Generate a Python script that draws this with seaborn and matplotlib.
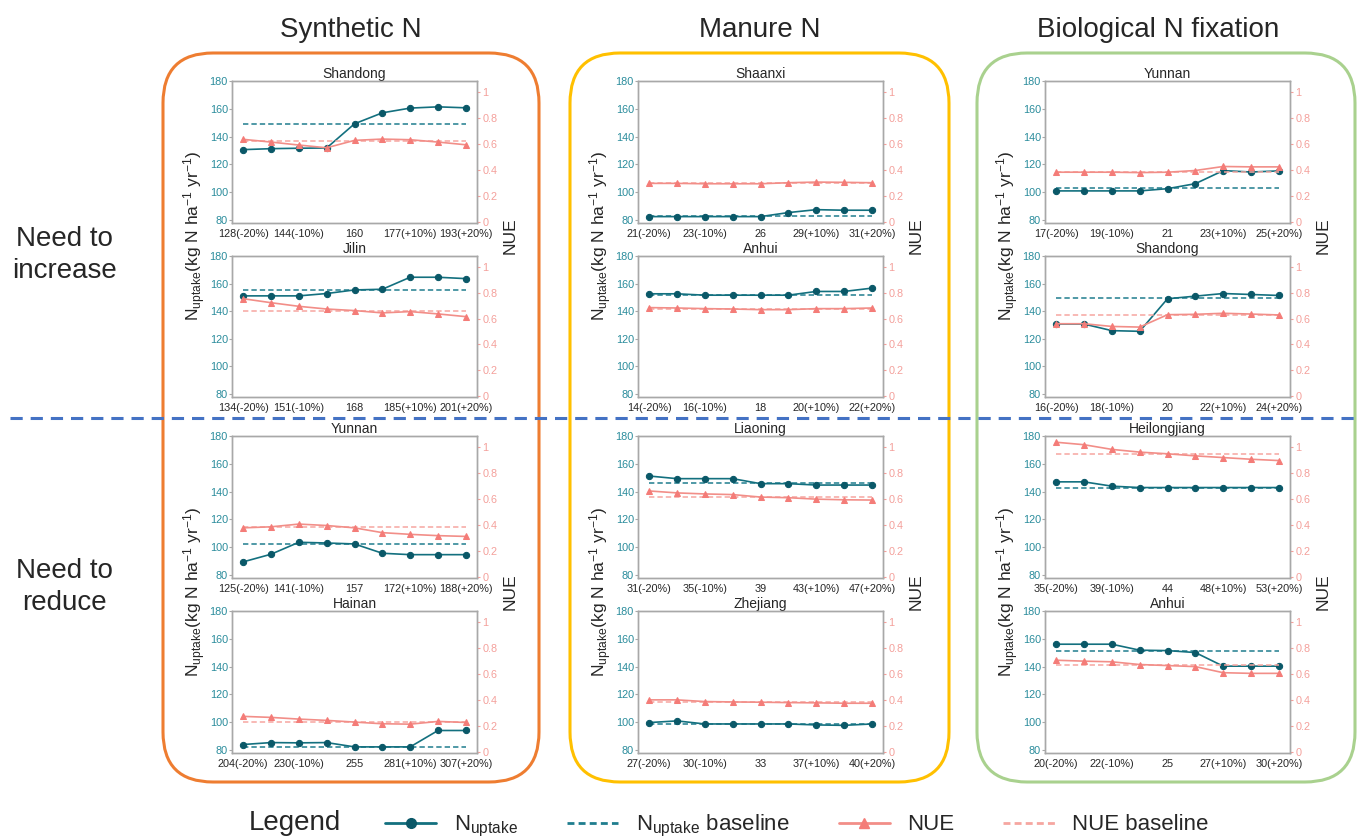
import numpy as np
import pandas as pd
import matplotlib
matplotlib.use("Agg")
import matplotlib.pyplot as plt
import seaborn as sns
from matplotlib.patches import FancyBboxPatch
from matplotlib.lines import Line2D

sns.set_style("white")
plt.rcParams["font.family"] = ["Liberation Sans", "DejaVu Sans"]
plt.rcParams["mathtext.default"] = "regular"

# ---------------- data ----------------
# Synthetic N
syn_shandong_x = ["128(-20%)", "144(-10%)", "160", "177(+10%)", "193(+20%)"]
syn_shandong_up = [130.6, 131.3, 131.6, 131.8, 149.2, 157.1, 160.5, 161.4, 160.7]
syn_shandong_up_base = 149.2
syn_shandong_nue = [0.636, 0.615, 0.592, 0.571, 0.628, 0.638, 0.633, 0.615, 0.594]
syn_shandong_nue_base = 0.625

syn_jilin_x = ["134(-20%)", "151(-10%)", "168", "185(+10%)", "201(+20%)"]
syn_jilin_up = [151.1, 151.1, 151.1, 152.8, 155.4, 155.9, 164.6, 164.6, 163.6]
syn_jilin_up_base = 155.4
syn_jilin_nue = [0.754, 0.723, 0.695, 0.674, 0.662, 0.644, 0.654, 0.636, 0.615]
syn_jilin_nue_base = 0.662

syn_yunnan_x = ["125(-20%)", "141(-10%)", "157", "172(+10%)", "188(+20%)"]
syn_yunnan_up = [89.4, 94.9, 103.5, 103.0, 102.3, 95.6, 94.6, 94.6, 94.6]
syn_yunnan_up_base = 102.3
syn_yunnan_nue = [0.378, 0.386, 0.407, 0.396, 0.378, 0.341, 0.328, 0.318, 0.312]
syn_yunnan_nue_base = 0.381

syn_hainan_x = ["204(-20%)", "230(-10%)", "255", "281(+10%)", "307(+20%)"]
syn_hainan_up = [83.9, 85.3, 85.1, 85.3, 82.2, 82.2, 82.2, 94.0, 94.0]
syn_hainan_up_base = 82.2
syn_hainan_nue = [0.274, 0.266, 0.253, 0.243, 0.230, 0.217, 0.214, 0.235, 0.227]
syn_hainan_nue_base = 0.230

# Manure N
man_shaanxi_x = ["21(-20%)", "23(-10%)", "26", "29(+10%)", "31(+20%)"]
man_shaanxi_up = [82.4, 82.4, 82.4, 82.4, 82.4, 85.3, 87.4, 87.0, 87.0]
man_shaanxi_up_base = 82.6
man_shaanxi_nue = [0.297, 0.297, 0.294, 0.294, 0.294, 0.302, 0.307, 0.305, 0.302]
man_shaanxi_nue_base = 0.297

man_anhui_x = ["14(-20%)", "16(-10%)", "18", "20(+10%)", "22(+20%)"]
man_anhui_up = [152.6, 152.6, 151.6, 151.6, 151.6, 151.6, 154.3, 154.3, 156.7]
man_anhui_up_base = 151.6
man_anhui_nue = [0.685, 0.682, 0.677, 0.674, 0.669, 0.669, 0.677, 0.677, 0.682]
man_anhui_nue_base = 0.674

man_liaoning_x = ["31(-20%)", "35(-10%)", "39", "43(+10%)", "47(+20%)"]
man_liaoning_up = [151.2, 149.3, 149.3, 149.3, 145.7, 145.7, 144.7, 144.7, 144.7]
man_liaoning_up_base = 146.2
man_liaoning_nue = [0.662, 0.647, 0.639, 0.634, 0.615, 0.610, 0.599, 0.594, 0.592]
man_liaoning_nue_base = 0.618

man_zhejiang_x = ["27(-20%)", "30(-10%)", "33", "37(+10%)", "40(+20%)"]
man_zhejiang_up = [99.7, 100.9, 98.7, 98.7, 98.7, 98.7, 98.0, 97.7, 98.7]
man_zhejiang_up_base = 98.5
man_zhejiang_nue = [0.401, 0.401, 0.388, 0.385, 0.383, 0.380, 0.378, 0.375, 0.375]
man_zhejiang_nue_base = 0.385

# Biological N fixation
bio_yunnan_x = ["17(-20%)", "19(-10%)", "21", "23(+10%)", "25(+20%)"]
bio_yunnan_up = [100.9, 100.9, 100.9, 100.9, 102.5, 106.1, 115.5, 114.5, 115.3]
bio_yunnan_up_base = 102.8
bio_yunnan_nue = [0.383, 0.383, 0.383, 0.380, 0.383, 0.396, 0.427, 0.424, 0.424]
bio_yunnan_nue_base = 0.385

bio_shandong_x = ["16(-20%)", "18(-10%)", "20", "22(+10%)", "24(+20%)"]
bio_shandong_up = [130.7, 130.7, 125.9, 125.4, 149.0, 150.9, 152.8, 152.1, 151.4]
bio_shandong_up_base = 149.2
bio_shandong_nue = [0.560, 0.560, 0.539, 0.534, 0.630, 0.633, 0.641, 0.635, 0.628]
bio_shandong_nue_base = 0.630

bio_heilongjiang_x = ["35(-20%)", "39(-10%)", "44", "48(+10%)", "53(+20%)"]
bio_heilongjiang_up = [147.0, 147.0, 143.9, 142.9, 142.9, 142.9, 142.9, 142.9, 142.9]
bio_heilongjiang_up_base = 142.9
bio_heilongjiang_nue = [1.037, 1.018, 0.982, 0.961, 0.948, 0.932, 0.919, 0.906, 0.896]
bio_heilongjiang_nue_base = 0.950

bio_anhui_x = ["20(-20%)", "22(-10%)", "25", "27(+10%)", "30(+20%)"]
bio_anhui_up = [156.1, 156.1, 156.1, 151.8, 151.5, 150.1, 140.3, 140.3, 140.3]
bio_anhui_up_base = 151.5
bio_anhui_nue = [0.706, 0.699, 0.694, 0.673, 0.665, 0.657, 0.610, 0.605, 0.605]
bio_anhui_nue_base = 0.668

col_titles = ["Synthetic N", "Manure N", "Biological N fixation"]
row_labels = ["Need to\nincrease", "Need to\nreduce"]

# (column, row, title, xlabels, uptake, uptake baseline, nue, nue baseline)
panels = [
    (0, 0, "Shandong", syn_shandong_x, syn_shandong_up, syn_shandong_up_base, syn_shandong_nue, syn_shandong_nue_base),
    (0, 1, "Jilin", syn_jilin_x, syn_jilin_up, syn_jilin_up_base, syn_jilin_nue, syn_jilin_nue_base),
    (0, 2, "Yunnan", syn_yunnan_x, syn_yunnan_up, syn_yunnan_up_base, syn_yunnan_nue, syn_yunnan_nue_base),
    (0, 3, "Hainan", syn_hainan_x, syn_hainan_up, syn_hainan_up_base, syn_hainan_nue, syn_hainan_nue_base),
    (1, 0, "Shaanxi", man_shaanxi_x, man_shaanxi_up, man_shaanxi_up_base, man_shaanxi_nue, man_shaanxi_nue_base),
    (1, 1, "Anhui", man_anhui_x, man_anhui_up, man_anhui_up_base, man_anhui_nue, man_anhui_nue_base),
    (1, 2, "Liaoning", man_liaoning_x, man_liaoning_up, man_liaoning_up_base, man_liaoning_nue, man_liaoning_nue_base),
    (1, 3, "Zhejiang", man_zhejiang_x, man_zhejiang_up, man_zhejiang_up_base, man_zhejiang_nue, man_zhejiang_nue_base),
    (2, 0, "Yunnan", bio_yunnan_x, bio_yunnan_up, bio_yunnan_up_base, bio_yunnan_nue, bio_yunnan_nue_base),
    (2, 1, "Shandong", bio_shandong_x, bio_shandong_up, bio_shandong_up_base, bio_shandong_nue, bio_shandong_nue_base),
    (2, 2, "Heilongjiang", bio_heilongjiang_x, bio_heilongjiang_up, bio_heilongjiang_up_base, bio_heilongjiang_nue, bio_heilongjiang_nue_base),
    (2, 3, "Anhui", bio_anhui_x, bio_anhui_up, bio_anhui_up_base, bio_anhui_nue, bio_anhui_nue_base),
]

# colours
teal_line = "#13707F"
teal_mark = "#0A5868"
teal_base = "#1F7D8E"
teal_text = "#2A8C9C"
pink_line = "#F28E88"
pink_mark = "#F47C78"
pink_base = "#F6A6A0"
pink_text = "#F4A09B"
spine_col = "#A8A8A8"
box_cols = ["#EE7D31", "#FFC000", "#A9D18E"]

# -------- layout (pixels) --------
W, H = 1357, 840
fig = plt.figure(figsize=(W / 100, H / 100), dpi=100)

bg = fig.add_axes([0, 0, 1, 1], zorder=-1)
bg.set_xlim(0, W)
bg.set_ylim(H, 0)
bg.axis("off")

box_x = [(163, 539), (570, 949), (977, 1355)]
for (x0, x1), c in zip(box_x, box_cols):
    bg.add_patch(FancyBboxPatch((x0, 53), x1 - x0, 729,
                                boxstyle="round,pad=0,rounding_size=50",
                                fill=False, ec=c, lw=2.2))
bg.plot([10, W], [418, 418], color="#4472C4", lw=2.2, ls=(0, (4, 2.6)))

col_cx = [351, 760, 1158]
for cx, t in zip(col_cx, col_titles):
    bg.text(cx, 30, t, ha="center", va="center", fontsize=20)
bg.text(64, 255, row_labels[0], ha="center", va="center", fontsize=20, linespacing=1.3)
bg.text(64, 587, row_labels[1], ha="center", va="center", fontsize=20, linespacing=1.3)

ax_left = [232, 638, 1045]
ax_w = 245
rows_px = [(81, 223), (256, 397), (436, 578), (611, 753)]

x = np.arange(9)
for col, row, title, xl, up, upb, nue, nueb in panels:
    top, bot = rows_px[row]
    ax = fig.add_axes([ax_left[col] / W, 1 - bot / H, ax_w / W, (bot - top) / H])
    ax2 = ax.twinx()
    df = pd.DataFrame({"x": x, "uptake": up, "nue": nue})

    ax2.hlines(nueb, 0, 8, colors=pink_base, linestyles=(0, (3.5, 2)), lw=1.1)
    sns.lineplot(data=df, x="x", y="nue", ax=ax2, color=pink_line, lw=1.2,
                 marker="^", markersize=4.5, markerfacecolor=pink_mark,
                 markeredgecolor=pink_mark)
    ax.hlines(upb, 0, 8, colors=teal_base, linestyles=(0, (3.5, 2)), lw=1.1)
    sns.lineplot(data=df, x="x", y="uptake", ax=ax, color=teal_line, lw=1.2,
                 marker="o", markersize=4.5, markerfacecolor=teal_mark,
                 markeredgecolor=teal_mark)

    ax.set_xlim(-0.4, 8.4)
    ax.set_ylim(77.8, 180)
    ax2.set_ylim(-0.008, 1.085)
    ax.set_xticks(x)
    ax.set_xticklabels([xl[i // 2] if i % 2 == 0 else "" for i in x])
    ax.set_yticks([80, 100, 120, 140, 160, 180])
    ax2.set_yticks([0, 0.2, 0.4, 0.6, 0.8, 1])
    ax2.set_yticklabels(["0", "0.2", "0.4", "0.6", "0.8", "1"])
    ax.set_xlabel("")
    ax.set_ylabel("")
    ax2.set_ylabel("")
    ax.tick_params(axis="x", length=2.5, width=0.8, color=spine_col, labelsize=7.8, pad=1.5)
    ax.tick_params(axis="y", length=2, width=0.8, color=spine_col, labelsize=7.8,
                   labelcolor=teal_text, pad=1)
    ax2.tick_params(axis="y", length=2.5, width=0.8, color=pink_text, labelsize=7.8,
                    labelcolor=pink_text, pad=1.5)
    for a in (ax, ax2):
        for s in a.spines.values():
            s.set_color(spine_col)
            s.set_linewidth(1.0)
    ax.set_title(title, fontsize=10, pad=2)

# shared axis labels for each column and row group
for col in range(3):
    for g in range(2):
        top = rows_px[2 * g][0]
        bot = rows_px[2 * g + 1][1]
        cy = (top + bot) / 2 - 3
        bg.text(ax_left[col] - 37, cy, r"N$_{uptake}$(kg N ha$^{-1}$ yr$^{-1}$)",
                rotation=90, ha="center", va="center", fontsize=12.5)
        bg.text(ax_left[col] + ax_w + 33, cy, "NUE", rotation=90,
                ha="center", va="center", fontsize=12.5)

# legend
bg.text(295, 823, "Legend", ha="center", va="center", fontsize=20)
handles = [
    Line2D([], [], color=teal_line, lw=2, marker="o", markersize=7,
           markerfacecolor=teal_mark, markeredgecolor=teal_mark),
    Line2D([], [], color=teal_base, lw=2, ls=(0, (2.5, 1.5))),
    Line2D([], [], color=pink_line, lw=2, marker="^", markersize=7,
           markerfacecolor=pink_mark, markeredgecolor=pink_mark),
    Line2D([], [], color=pink_base, lw=2, ls=(0, (2.5, 1.5))),
]
labels = [r"N$_{uptake}$", r"N$_{uptake}$ baseline", "NUE", "NUE baseline"]
fig.legend(handles, labels, loc="center left", bbox_to_anchor=(385 / W, 1 - 826 / H),
           ncol=4, frameon=False, fontsize=16, handlelength=2.3, handletextpad=0.8,
           columnspacing=2.2, borderpad=0, borderaxespad=0)

fig.savefig("out.png", dpi=100)
